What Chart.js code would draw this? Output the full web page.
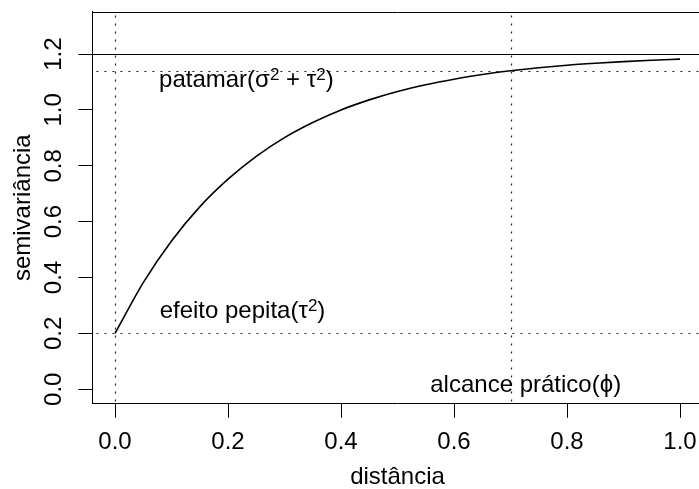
<!DOCTYPE html>
<html>
<head>
<meta charset="utf-8">
<script src="https://cdn.jsdelivr.net/npm/chart.js@4/dist/chart.umd.min.js"></script>
<style>
  html, body { margin: 0; padding: 0; background: #fff; overflow: hidden; }
  #wrap { width: 710px; height: 489px; }
</style>
</head>
<body>
<div id="wrap"><canvas id="c" width="710" height="489" style="width:710px;height:489px"></canvas></div>
<script>
// Exponential semivariogram: distance vs semivariance
const distancia = [0.00, 0.05, 0.10, 0.15, 0.20, 0.25, 0.30, 0.35, 0.40, 0.45, 0.50,
                   0.55, 0.60, 0.65, 0.70, 0.75, 0.80, 0.85, 0.90, 0.95, 1.00];
const semivariancia = [0.200, 0.382, 0.531, 0.653, 0.752, 0.834, 0.901, 0.955, 1.000, 1.036, 1.066,
                       1.090, 1.110, 1.127, 1.140, 1.151, 1.160, 1.167, 1.173, 1.178, 1.182];

// reference levels
const patamar = 1.2;          // sill (sigma^2 + tau^2)
const patamar95 = 1.14;       // 95% of the sill
const pepita = 0.2;           // nugget (tau^2)
const alcancePratico = 0.7;   // practical range (phi)

const xTicks = [0.0, 0.2, 0.4, 0.6, 0.8, 1.0];
const yTicks = [0.0, 0.2, 0.4, 0.6, 0.8, 1.0, 1.2];

const xLabel = 'distância';
const yLabel = 'semivariância';

// annotation texts: [x, y, pieces]; a piece is [text, superscript?]
const notas = [
  { x: 0.078, y: 1.082, parts: [['patamar(', false], ['σ', false], ['2', true], [' + ', false], ['τ', false], ['2', true], [')', false]] },
  { x: 0.079, y: 0.255, parts: [['efeito pepita(', false], ['τ', false], ['2', true], [')', false]] },
  { x: 0.558, y: -0.010, parts: [['alcance prático(', false], ['ϕ', false], [')', false]] }
];

const FONT = '"Liberation Sans", Arial, Helvetica, sans-serif';

// keep the plot region fixed: no extra room for half-labels at the axis ends
function fixAxis(size, key) {
  return s => {
    s[key] = size;
    s.paddingTop = 0; s.paddingBottom = 0; s.paddingLeft = 0; s.paddingRight = 0;
  };
}

const refLines = {
  id: 'refLines',
  beforeDatasetsDraw(chart) {
    const { ctx, chartArea: a, scales: { x, y } } = chart;
    ctx.save();
    ctx.beginPath();
    ctx.rect(a.left, a.top, a.right - a.left, a.bottom - a.top);
    ctx.clip();
    // solid sill line
    ctx.strokeStyle = '#000';
    ctx.lineWidth = 1.2;
    const ys = Math.round(y.getPixelForValue(patamar)) + 0.5;
    ctx.beginPath(); ctx.moveTo(a.left, ys); ctx.lineTo(a.right, ys); ctx.stroke();
    // dotted guides
    ctx.strokeStyle = '#222';
    ctx.lineWidth = 1.2;
    ctx.setLineDash([2, 6]);
    ctx.lineDashOffset = 4;
    [pepita, patamar95].forEach(v => {
      const p = Math.round(y.getPixelForValue(v)) + 0.5;
      ctx.beginPath(); ctx.moveTo(a.left, p); ctx.lineTo(a.right, p); ctx.stroke();
    });
    [0, alcancePratico].forEach(v => {
      const p = Math.round(x.getPixelForValue(v)) + 0.5;
      ctx.beginPath(); ctx.moveTo(p, a.top); ctx.lineTo(p, a.bottom); ctx.stroke();
    });
    ctx.restore();
  },
  afterDraw(chart) {
    const { ctx, chartArea: a, scales: { x, y } } = chart;
    ctx.save();
    // frame top and right sides
    ctx.strokeStyle = '#000';
    ctx.lineWidth = 1;
    ctx.beginPath();
    ctx.moveTo(a.left, Math.round(a.top) + 0.5);
    ctx.lineTo(a.right, Math.round(a.top) + 0.5);
    ctx.lineTo(a.right, a.bottom);
    ctx.stroke();
    // annotation texts
    ctx.fillStyle = '#000';
    ctx.textBaseline = 'alphabetic';
    ctx.textAlign = 'left';
    notas.forEach(n => {
      let px = x.getPixelForValue(n.x);
      const py = y.getPixelForValue(n.y);
      n.parts.forEach(([t, sup]) => {
        ctx.font = (sup ? '17px ' : '24px ') + FONT;
        ctx.fillText(t, px, sup ? py - 7.5 : py);
        px += ctx.measureText(t).width;
      });
    });
    ctx.restore();
  }
};

new Chart(document.getElementById('c'), {
  type: 'line',
  data: {
    datasets: [{
      data: distancia.map((d, i) => ({ x: d, y: semivariancia[i] })),
      borderColor: '#000',
      borderWidth: 1.6,
      pointRadius: 0,
      fill: false,
      cubicInterpolationMode: 'monotone'
    }]
  },
  options: {
    responsive: false,
    animation: false,
    layout: { padding: { left: 0, top: 11.6, right: 7.4, bottom: 0 } },
    plugins: { legend: { display: false }, tooltip: { enabled: false } },
    scales: {
      x: {
        type: 'linear',
        min: -0.04,
        max: 1.04,
        afterBuildTicks: s => { s.ticks = xTicks.map(v => ({ value: v })); },
        afterFit: fixAxis(85.2, 'height'),
        grid: { display: true, drawOnChartArea: false, drawTicks: true, tickLength: 14, color: '#000', lineWidth: 1 },
        border: { display: true, color: '#000', width: 1 },
        ticks: {
          autoSkip: false,
          maxRotation: 0,
          padding: 10.5,
          color: '#000',
          font: { family: FONT, size: 24 },
          callback: v => Number(v).toFixed(1)
        },
        title: {
          display: true,
          text: xLabel,
          color: '#000',
          font: { family: FONT, size: 24, lineHeight: 1 },
          padding: { top: 0, bottom: 0 }
        }
      },
      y: {
        type: 'linear',
        min: -0.052,
        max: 1.352,
        afterBuildTicks: s => { s.ticks = yTicks.map(v => ({ value: v })); },
        afterFit: fixAxis(92.4, 'width'),
        grid: { display: true, drawOnChartArea: false, drawTicks: true, tickLength: 14, color: '#000', lineWidth: 1 },
        border: { display: true, color: '#000', width: 1 },
        ticks: {
          autoSkip: false,
          minRotation: 90,
          maxRotation: 90,
          crossAlign: 'center',
          padding: 7,
          color: '#000',
          font: { family: FONT, size: 24 },
          callback: v => Number(v).toFixed(1)
        },
        title: {
          display: true,
          text: yLabel,
          color: '#000',
          font: { family: FONT, size: 24, lineHeight: 1 },
          padding: { top: 11.7, bottom: 0 }
        }
      }
    }
  },
  plugins: [refLines]
});
</script>
</body>
</html>
